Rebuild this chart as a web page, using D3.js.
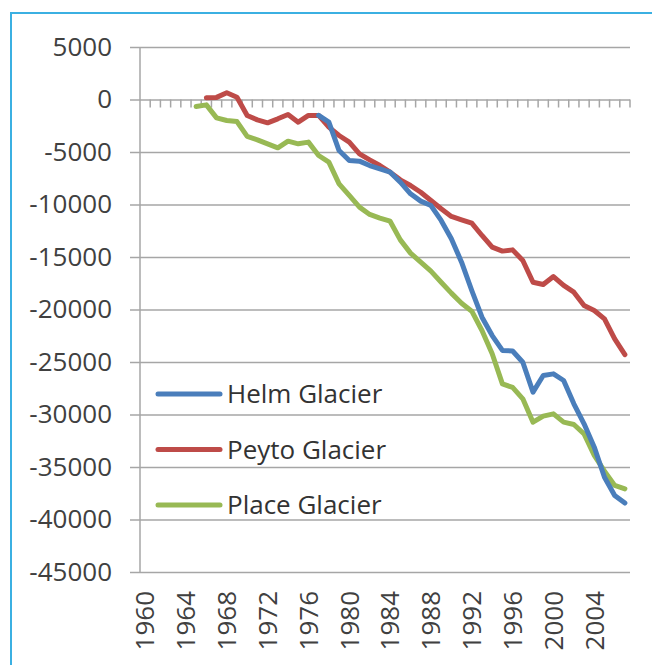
<!DOCTYPE html>
<html>
<head>
<meta charset="utf-8">
<script src="https://cdn.jsdelivr.net/npm/d3@7"></script>
<style>
  html, body { margin: 0; padding: 0; background: #fff; }
  svg { display: block; }
  text { font-family: "Open Sans", "Liberation Sans", sans-serif; }
</style>
</head>
<body>
<svg id="chart" width="652" height="665"></svg>
<script>
// Cumulative mass balance (mm w.e.) of three western Canadian glaciers
const years = d3.range(1960, 2008);
const yearLabels = d3.range(1960, 2008, 4);
const yTicks = d3.range(5000, -45001, -5000);

const helmStart = 1977;
const helmValues = [-1520, -2160, -4860, -5810, -5870, -6290, -6600, -6920, -7870, -8980,
  -9680, -10100, -11520, -13270, -15490, -18190, -20730, -22480, -23900, -23950,
  -25020, -27870, -26290, -26130, -26760, -28980, -30890, -33110, -35970, -37710, -38440];

const peytoStart = 1966;
const peytoValues = [160, 200, 640, 220, -1520, -1940, -2220, -1840, -1430, -2160,
  -1520, -1520, -2630, -3430, -4060, -5170, -5750, -6290, -6920, -7650,
  -8190, -8830, -9620, -10410, -11140, -11460, -11780, -12950, -14060, -14440,
  -14320, -15330, -17400, -17620, -16860, -17710, -18350, -19620, -20100, -20890,
  -22790, -24290];

const placeStart = 1965;
const placeValues = [-670, -510, -1750, -2000, -2100, -3520, -3840, -4220, -4600, -3970,
  -4220, -4060, -5330, -5970, -8030, -9140, -10250, -10950, -11300, -11590,
  -13370, -14630, -15490, -16350, -17400, -18440, -19400, -20160, -22000, -24220,
  -27080, -27420, -28510, -30730, -30160, -29940, -30730, -30950, -31840, -33900,
  -35400, -36760, -37080];

const seriesNames = ["Helm Glacier", "Peyto Glacier", "Place Glacier"];
const seriesColors = ["#4a7ebb", "#be4b48", "#98b954"];

const series = [
  { name: seriesNames[0], color: seriesColors[0], start: helmStart, values: helmValues },
  { name: seriesNames[1], color: seriesColors[1], start: peytoStart, values: peytoValues },
  { name: seriesNames[2], color: seriesColors[2], start: placeStart, values: placeValues }
].map(s => ({ ...s, points: s.values.map((v, i) => ({ year: s.start + i, value: v })) }));

const svg = d3.select("#chart");

// frame: blue rule along the top and left edges
svg.append("path")
  .attr("d", "M11,665 L11,13 L652,13")
  .attr("fill", "none")
  .attr("stroke", "#3bb0e2")
  .attr("stroke-width", 2);

const x = d3.scaleBand().domain(years).range([140, 630]).paddingInner(0).paddingOuter(0);
const y = d3.scaleLinear().domain([-45000, 5000]).range([572, 47]);

// horizontal gridlines and value labels
const yAxis = svg.append("g")
  .attr("transform", "translate(130,0)")
  .call(d3.axisLeft(y).tickValues(yTicks).tickSize(-500).tickPadding(18)
    .tickFormat(d => String(d)));
yAxis.select(".domain").remove();
yAxis.selectAll(".tick line").attr("stroke", "#a6a6a6").attr("stroke-width", 1.5);
yAxis.selectAll(".tick text")
  .attr("font-size", 26)
  .attr("fill", "#404040")
  .attr("font-family", "'Open Sans', sans-serif");

// vertical axis line
svg.append("line")
  .attr("x1", 140).attr("x2", 140)
  .attr("y1", y(5000)).attr("y2", y(-45000))
  .attr("stroke", "#a6a6a6").attr("stroke-width", 1.5);

// category tick marks hanging from the zero line
const boundaries = years.map(d => x(d)).concat([x(years[years.length - 1]) + x.bandwidth()]);
svg.append("g").selectAll("line")
  .data(boundaries.slice(1))
  .join("line")
  .attr("x1", d => d).attr("x2", d => d)
  .attr("y1", y(0)).attr("y2", y(0) + 8)
  .attr("stroke", "#a6a6a6").attr("stroke-width", 1.5);

// year labels, rotated
svg.append("g").selectAll("text")
  .data(yearLabels)
  .join("text")
  .attr("transform", d => `translate(${x(d) + x.bandwidth() / 2},591) rotate(-90)`)
  .attr("text-anchor", "end")
  .attr("dy", "0.36em")
  .attr("font-size", 26)
  .attr("fill", "#404040")
  .text(d => d);

// series lines
const line = d3.line()
  .x(d => x(d.year) + x.bandwidth() / 2)
  .y(d => y(d.value));

svg.append("g").selectAll("path")
  .data([series[2], series[1], series[0]])
  .join("path")
  .attr("d", d => line(d.points))
  .attr("fill", "none")
  .attr("stroke", d => d.color)
  .attr("stroke-width", 5)
  .attr("stroke-linejoin", "round")
  .attr("stroke-linecap", "round");

// legend
const legend = svg.append("g").selectAll("g")
  .data(series)
  .join("g")
  .attr("transform", (d, i) => `translate(158,${394 + i * 55.5})`);
legend.append("line")
  .attr("x1", 0).attr("x2", 62)
  .attr("stroke", d => d.color)
  .attr("stroke-width", 5)
  .attr("stroke-linecap", "round");
legend.append("text")
  .attr("x", 69)
  .attr("dy", "0.36em")
  .attr("font-size", 26)
  .attr("fill", "#333")
  .text(d => d.name);
</script>
</body>
</html>
